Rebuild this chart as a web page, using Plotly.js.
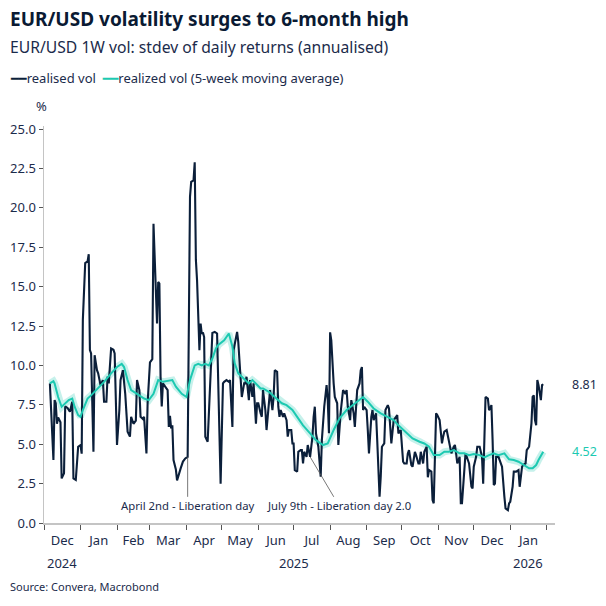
<!DOCTYPE html>
<html>
<head>
<meta charset="utf-8">
<script src="https://cdn.plot.ly/plotly-3.0.1.min.js"></script>
<style>
  html, body { margin: 0; padding: 0; background: #ffffff; }
  #chart { width: 606px; height: 606px; }
</style>
</head>
<body>
<div id="chart"></div>
<script>
// realised vol
const volDates = [
  '2024-12-06','2024-12-09','2024-12-10','2024-12-11','2024-12-12','2024-12-13','2024-12-15','2024-12-16','2024-12-18','2024-12-19',
  '2024-12-21','2024-12-23','2024-12-25','2024-12-26','2024-12-28','2024-12-30','2025-01-01','2025-01-02','2025-01-03','2025-01-05',
  '2025-01-07','2025-01-08','2025-01-09','2025-01-10','2025-01-12','2025-01-13','2025-01-15','2025-01-16','2025-01-18','2025-01-20',
  '2025-01-21','2025-01-23','2025-01-24','2025-01-25','2025-01-27','2025-01-29','2025-01-30','2025-02-01','2025-02-03','2025-02-04',
  '2025-02-06','2025-02-08','2025-02-10','2025-02-12','2025-02-13','2025-02-15','2025-02-17','2025-02-18','2025-02-20','2025-02-21',
  '2025-02-23','2025-02-24','2025-02-26','2025-02-27','2025-03-01','2025-03-03','2025-03-04','2025-03-06','2025-03-07','2025-03-08',
  '2025-03-09','2025-03-10','2025-03-11','2025-03-12','2025-03-14','2025-03-16','2025-03-17','2025-03-18','2025-03-19','2025-03-20',
  '2025-03-21','2025-03-23','2025-03-24','2025-03-26','2025-03-27','2025-03-29','2025-03-31','2025-04-02','2025-04-04','2025-04-05',
  '2025-04-07','2025-04-08','2025-04-09','2025-04-10','2025-04-12','2025-04-13','2025-04-14','2025-04-15','2025-04-16','2025-04-17',
  '2025-04-19','2025-04-23','2025-04-25','2025-04-27','2025-04-28','2025-04-30','2025-05-02','2025-05-03','2025-05-05','2025-05-07',
  '2025-05-08','2025-05-10','2025-05-11','2025-05-12','2025-05-14','2025-05-15','2025-05-17','2025-05-18','2025-05-20','2025-05-21',
  '2025-05-22','2025-05-24','2025-05-25','2025-05-27','2025-05-28','2025-05-30','2025-05-31','2025-06-01','2025-06-03','2025-06-04',
  '2025-06-05','2025-06-07','2025-06-08','2025-06-10','2025-06-11','2025-06-13','2025-06-14','2025-06-15','2025-06-17','2025-06-18',
  '2025-06-19','2025-06-20','2025-06-22','2025-06-23','2025-06-25','2025-06-26','2025-06-27','2025-06-29','2025-06-30','2025-07-01',
  '2025-07-02','2025-07-04','2025-07-05','2025-07-07','2025-07-08','2025-07-09','2025-07-10','2025-07-12','2025-07-13','2025-07-15',
  '2025-07-16','2025-07-17','2025-07-18','2025-07-19','2025-07-20','2025-07-22','2025-07-24','2025-07-25','2025-07-27','2025-07-29',
  '2025-07-30','2025-07-31','2025-08-01','2025-08-02','2025-08-04','2025-08-05','2025-08-07','2025-08-08','2025-08-10','2025-08-11',
  '2025-08-12','2025-08-14','2025-08-15','2025-08-16','2025-08-18','2025-08-19','2025-08-21','2025-08-22','2025-08-23','2025-08-24',
  '2025-08-26','2025-08-27','2025-08-28','2025-08-29','2025-08-30','2025-09-01','2025-09-02','2025-09-03','2025-09-05','2025-09-06',
  '2025-09-07','2025-09-09','2025-09-10','2025-09-12','2025-09-13','2025-09-14','2025-09-16','2025-09-17','2025-09-19','2025-09-20',
  '2025-09-22','2025-09-23','2025-09-24','2025-09-26','2025-09-27','2025-09-28','2025-09-30','2025-10-02','2025-10-03','2025-10-05',
  '2025-10-06','2025-10-07','2025-10-09','2025-10-10','2025-10-12','2025-10-13','2025-10-15','2025-10-16','2025-10-17','2025-10-19',
  '2025-10-20','2025-10-22','2025-10-23','2025-10-24','2025-10-26','2025-10-27','2025-10-28','2025-10-30','2025-10-31','2025-11-02',
  '2025-11-04','2025-11-05','2025-11-06','2025-11-08','2025-11-09','2025-11-11','2025-11-12','2025-11-14','2025-11-15','2025-11-16',
  '2025-11-17','2025-11-19','2025-11-20','2025-11-21','2025-11-23','2025-11-24','2025-11-26','2025-11-27','2025-11-29','2025-11-30',
  '2025-12-01','2025-12-03','2025-12-04','2025-12-06','2025-12-07','2025-12-08','2025-12-09','2025-12-11','2025-12-13','2025-12-14',
  '2025-12-15','2025-12-16','2025-12-17','2025-12-18','2025-12-19','2025-12-20','2025-12-22','2025-12-23','2025-12-25','2025-12-27',
  '2025-12-28','2025-12-30','2025-12-31','2026-01-01','2026-01-03','2026-01-04','2026-01-06','2026-01-08','2026-01-09','2026-01-11',
  '2026-01-12','2026-01-14','2026-01-15','2026-01-16','2026-01-17','2026-01-19','2026-01-20','2026-01-21','2026-01-22','2026-01-23',
  '2026-01-24','2026-01-25','2026-01-27','2026-01-28','2026-01-29'
]
const volValues = [
  8.86, 4.0, 7.8, 7.6, 6.3, 6.7, 6.4, 2.83, 3.15, 7.4,
  7.3, 7.06, 7.7, 2.83, 2.73, 4.84, 4.95, 4.4, 12.9, 16.5,
  16.6, 17.06, 10.97, 10.76, 4.52, 10.65, 9.7, 9.5, 8.75, 9.07,
  7.7, 7.7, 9.3, 8.86, 11.08, 11.0, 10.76, 4.95, 7.17, 9.07,
  9.7, 8.2, 5.8, 5.48, 6.74, 6.3, 6.5, 9.07, 8.44, 6.74,
  6.6, 6.74, 4.42, 7.6, 10.2, 10.4, 19.0, 15.2, 12.66, 15.3,
  15.2, 9.3, 7.4, 8.86, 8.65, 8.44, 6.1, 6.8, 6.0, 6.2,
  4.0, 3.4, 2.7, 3.3, 3.45, 3.9, 4.1, 4.2, 20.7, 21.65,
  21.75, 22.9, 16.7, 15.4, 10.97, 12.66, 12.0, 12.1, 11.8, 5.47,
  5.16, 12.07, 12.13, 12.03, 8.86, 2.5, 8.86, 8.96, 9.07, 8.96,
  9.07, 6.1, 10.97, 11.4, 12.13, 11.5, 8.86, 8.0, 8.86, 8.86,
  9.28, 7.8, 9.07, 8.0, 8.86, 6.3, 7.6, 7.6, 6.96, 6.74,
  8.44, 7.17, 5.9, 7.6, 8.44, 7.17, 8.0, 9.7, 9.6, 7.38,
  6.74, 7.17, 6.74, 6.96, 6.53, 5.48, 5.9, 5.9, 5.05, 5.05,
  3.36, 3.26, 4.52, 4.63, 4.63, 3.78, 4.52, 4.2, 4.95, 4.2,
  4.73, 5.48, 6.74, 7.38, 5.69, 4.84, 2.94, 5.26, 7.38, 8.75,
  7.8, 5.7, 12.1, 11.6, 8.86, 8.0, 7.6, 4.95, 7.06, 7.8,
  8.44, 8.2, 8.44, 7.38, 6.53, 7.8, 6.96, 6.1, 7.17, 8.44,
  8.86, 9.7, 9.9, 7.17, 7.38, 7.17, 5.9, 4.42, 6.74, 7.17,
  6.53, 6.96, 5.26, 1.67, 2.94, 4.84, 5.05, 7.17, 7.48, 7.27,
  5.05, 5.69, 6.53, 6.74, 6.85, 5.69, 5.9, 3.89, 3.78, 3.78,
  4.42, 4.63, 3.68, 3.57, 4.52, 4.31, 3.78, 3.78, 4.52, 3.78,
  4.52, 4.84, 2.9, 3.36, 3.26, 1.46, 1.25, 6.96, 6.85, 6.53,
  5.05, 5.48, 5.8, 5.9, 5.48, 4.84, 4.42, 4.84, 4.95, 4.42,
  3.78, 4.2, 1.25, 1.25, 3.78, 4.42, 4.0, 3.78, 2.31, 2.2,
  3.57, 4.2, 4.84, 4.84, 4.52, 4.2, 2.5, 8.0, 7.9, 7.17,
  7.27, 7.48, 5.26, 2.41, 2.5, 4.2, 4.2, 4.0, 3.57, 1.67,
  0.93, 0.82, 1.25, 1.35, 2.3, 3.26, 3.26, 3.36, 2.3, 3.57,
  3.68, 3.78, 4.63, 4.73, 4.84, 6.32, 8.0, 8.1, 6.53, 6.2,
  9.07, 8.75, 7.8, 8.75, 8.81
]

// 5-week moving average
const avgDates = [
  '2024-12-06','2024-12-09','2024-12-10','2024-12-13','2024-12-16','2024-12-19','2024-12-22','2024-12-25','2024-12-27','2024-12-30',
  '2025-01-01','2025-01-03','2025-01-07','2025-01-10','2025-01-16','2025-01-21','2025-01-27','2025-02-01','2025-02-05','2025-02-07',
  '2025-02-10','2025-02-13','2025-02-18','2025-02-24','2025-02-28','2025-03-04','2025-03-08','2025-03-12','2025-03-20','2025-03-23',
  '2025-03-28','2025-04-01','2025-04-04','2025-04-08','2025-04-11','2025-04-14','2025-04-17','2025-04-20','2025-04-23','2025-04-26',
  '2025-04-28','2025-05-03','2025-05-07','2025-05-10','2025-05-12','2025-05-15','2025-05-18','2025-05-21','2025-05-24','2025-05-27',
  '2025-05-30','2025-06-03','2025-06-05','2025-06-10','2025-06-15','2025-06-21','2025-06-25','2025-06-30','2025-07-04','2025-07-07',
  '2025-07-09','2025-07-15','2025-07-20','2025-07-26','2025-07-30','2025-08-04','2025-08-09','2025-08-15','2025-08-20','2025-08-26',
  '2025-08-29','2025-09-02','2025-09-07','2025-09-13','2025-09-19','2025-09-24','2025-09-28','2025-10-05','2025-10-10','2025-10-16',
  '2025-10-20','2025-10-24','2025-10-28','2025-11-02','2025-11-06','2025-11-10','2025-11-14','2025-11-19','2025-11-23','2025-11-27',
  '2025-12-01','2025-12-06','2025-12-10','2025-12-14','2025-12-18','2025-12-22','2025-12-27','2025-12-31','2026-01-04','2026-01-08',
  '2026-01-13','2026-01-17','2026-01-20','2026-01-23','2026-01-25','2026-01-29'
]
const avgValues = [
  8.86, 9.0, 8.86, 8.0, 7.38, 7.6, 7.8, 7.9, 7.38, 6.85,
  6.74, 7.17, 7.9, 8.1, 8.54, 8.96, 9.5, 9.9, 10.1, 9.9,
  9.07, 8.44, 8.2, 7.9, 7.8, 8.2, 9.07, 8.96, 9.07, 8.65,
  8.2, 8.0, 9.07, 10.0, 10.1, 10.0, 10.1, 10.0, 10.44, 11.08,
  11.3, 11.6, 12.03, 11.2, 10.13, 9.5, 9.28, 9.07, 8.86, 9.07,
  8.86, 8.54, 8.54, 8.33, 8.0, 7.6, 7.48, 7.17, 6.74, 6.43,
  6.2, 5.69, 5.26, 4.95, 5.05, 5.9, 6.64, 7.17, 7.48, 7.8,
  8.0, 7.7, 7.27, 6.96, 6.74, 6.53, 6.2, 5.69, 5.37, 5.16,
  5.05, 4.84, 4.31, 4.31, 4.52, 4.52, 4.63, 4.42, 4.42, 4.31,
  4.38, 4.31, 4.16, 4.31, 4.42, 4.31, 4.42, 4.04, 4.0, 3.89,
  3.68, 3.47, 3.47, 3.68, 4.0, 4.52
]

const seriesNames = ['realised vol', 'realized vol (5-week moving average)']
const yearLabels = ['2024', '2025', '2026']
const yearCentres = ['2024-12-16', '2025-07-01', '2026-01-16']

const navy = '#0b1f3a'
const teal = '#1cc9b1'
const textColor = '#1b2b4b'
const axisGrey = '#c4c4c4'
const font = 'Noto Sans, Segoe UI, sans-serif'

const traces = [
  {
    x: avgDates,
    y: avgValues,
    type: 'scatter',
    mode: 'lines',
    line: { color: 'rgba(28,201,177,0.25)', width: 7 },
    showlegend: false,
    hoverinfo: 'skip'
  },
  {
    x: volDates,
    y: volValues,
    type: 'scatter',
    mode: 'lines',
    name: seriesNames[0],
    line: { color: navy, width: 2.1 }
  },
  {
    x: avgDates,
    y: avgValues,
    type: 'scatter',
    mode: 'lines',
    name: seriesNames[1],
    line: { color: teal, width: 2 }
  }
]

// legend key, drawn as text so the key lines stay short
function keyLine(color) {
  return '<span style="font-family:DejaVu Sans;color:' + color + '">━━</span>'
}

const annotations = [
  {
    xref: 'paper', yref: 'paper', x: -0.0705, y: 1.27,
    xanchor: 'left', yanchor: 'middle', showarrow: false,
    text: '<b>EUR/USD volatility surges to 6-month high</b>',
    font: { family: font, size: 19, color: '#0a1a33' }
  },
  {
    xref: 'paper', yref: 'paper', x: -0.0705, y: 1.199,
    xanchor: 'left', yanchor: 'middle', showarrow: false,
    text: 'EUR/USD 1W vol: stdev of daily returns (annualised)',
    font: { family: font, size: 15.7, color: textColor }
  },
  {
    xref: 'paper', yref: 'paper', x: -0.0705, y: 1.121,
    xanchor: 'left', yanchor: 'middle', showarrow: false,
    text: keyLine(navy) + seriesNames[0] + '  ' + keyLine(teal) + seriesNames[1],
    font: { family: font, size: 13, color: textColor }
  },
  {
    xref: 'paper', yref: 'paper', x: -0.004, y: 1.05,
    xanchor: 'center', yanchor: 'middle', showarrow: false,
    text: '%',
    font: { family: font, size: 13, color: textColor }
  },
  {
    xref: 'paper', yref: 'paper', x: -0.0705, y: -0.161,
    xanchor: 'left', yanchor: 'middle', showarrow: false,
    text: 'Source: Convera, Macrobond',
    font: { family: font, size: 11, color: textColor }
  },
  {
    xref: 'paper', yref: 'y', x: 1.029, y: volValues[volValues.length - 1],
    xanchor: 'left', yanchor: 'middle', showarrow: false,
    text: volValues[volValues.length - 1].toFixed(2),
    font: { family: font, size: 12.5, color: textColor }
  },
  {
    xref: 'paper', yref: 'y', x: 1.029, y: avgValues[avgValues.length - 1],
    xanchor: 'left', yanchor: 'middle', showarrow: false,
    text: avgValues[avgValues.length - 1].toFixed(2),
    font: { family: font, size: 12.5, color: teal }
  },
  {
    x: '2025-04-02', y: 4.2, xref: 'x', yref: 'y',
    ax: 0, ay: 49, showarrow: true, arrowhead: 0, arrowwidth: 0.8, arrowcolor: '#555555',
    text: 'April 2nd - Liberation day',
    font: { family: font, size: 11.3, color: textColor }
  },
  {
    x: '2025-07-15', y: 4.2, xref: 'x', yref: 'y',
    ax: 29, ay: 49, showarrow: true, arrowhead: 0, arrowwidth: 0.8, arrowcolor: '#555555',
    text: 'July 9th - Liberation day 2.0',
    font: { family: font, size: 11.3, color: textColor }
  }
]

yearLabels.forEach((label, i) => {
  annotations.push({
    xref: 'x', yref: 'paper', x: yearCentres[i], y: -0.1,
    xanchor: 'center', yanchor: 'middle', showarrow: false,
    text: label,
    font: { family: font, size: 13, color: textColor }
  })
})

const layout = {
  width: 606,
  height: 606,
  paper_bgcolor: '#ffffff',
  plot_bgcolor: '#ffffff',
  font: { family: font, color: textColor },
  margin: { l: 44, r: 51, t: 126, b: 83, pad: 0 },
  showlegend: false,
  xaxis: {
    type: 'date',
    automargin: false,
    range: ['2024-12-01', '2026-02-08'],
    dtick: 'M1',
    tick0: '2025-01-01',
    ticklabelmode: 'period',
    tickformat: '%b',
    ticks: 'outside',
    ticklen: 5,
    tickcolor: '#555555',
    showgrid: false,
    zeroline: false,
    showline: true,
    linecolor: axisGrey,
    linewidth: 1.5,
    tickfont: { family: font, size: 13, color: textColor }
  },
  yaxis: {
    automargin: false,
    range: [0, 25.2],
    dtick: 2.5,
    tick0: 0,
    tickformat: '.1f',
    ticks: 'outside',
    ticklen: 4,
    tickcolor: '#555555',
    showgrid: false,
    zeroline: false,
    showline: true,
    linecolor: axisGrey,
    linewidth: 1.5,
    tickfont: { family: font, size: 13, color: textColor }
  },
  annotations: annotations
}

Plotly.newPlot('chart', traces, layout, { displayModeBar: false, staticPlot: true })
</script>
</body>
</html>
